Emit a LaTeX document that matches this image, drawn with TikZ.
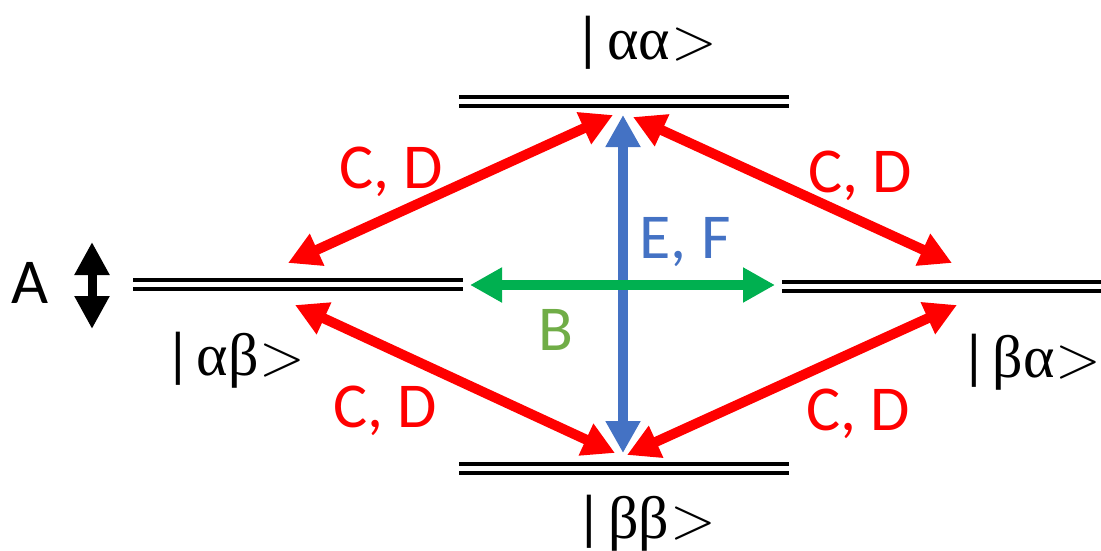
\documentclass[tikz,border=0pt]{standalone}
\usepackage{fix-cm}
\usepackage{fontspec}
\setmainfont{Carlito}
\newfontfamily\greekfont{Liberation Serif}
\usetikzlibrary{arrows.meta}
\definecolor{cdred}{RGB}{255,0,0}
\definecolor{efblue}{RGB}{68,114,196}
\definecolor{bgreen}{RGB}{0,176,80}
\definecolor{blabel}{RGB}{112,173,71}
\newcommand{\kettext}[1]{|\hspace{5pt}{\greekfont #1}\hspace{1pt}$>$}
\begin{document}
\begin{tikzpicture}[
        x=1pt, y=-1pt,
        font=\fontsize{64}{70}\selectfont,
        level/.style={draw=black, line width=4pt, double=white, double distance=5pt},
        trans/.style={line width=10pt, {Triangle[width=33pt,length=32pt]}-{Triangle[width=33pt,length=32pt]}},
        cd/.style={trans, draw=cdred},
        ket/.style={anchor=base, inner sep=0pt, font=\fontsize{60}{66}\selectfont},
        lab/.style={anchor=base, inner sep=0pt}
    ]
        \useasboundingbox (0,0) rectangle (1101,551);
        % energy levels
        \coordinate (aaL) at (459,101.5); \coordinate (aaR) at (789,101.5);
        \coordinate (abL) at (133,284.5); \coordinate (abR) at (463,284.5);
        \coordinate (baL) at (782,286.5); \coordinate (baR) at (1101,286.5);
        \coordinate (bbL) at (459,468.5); \coordinate (bbR) at (789,468.5);
        \draw[level] (aaL) -- (aaR);
        \draw[level] (abL) -- (abR);
        \draw[level] (baL) -- (baR);
        \draw[level] (bbL) -- (bbR);
        \node[ket] (kaa) at (646,60) {\kettext{αα}};
        \node[ket] (kab) at (235,375) {\kettext{αβ}};
        \node[ket] (kba) at (1031,377) {\kettext{βα}};
        \node[ket] (kbb) at (646,538) {\kettext{ββ}};
        % transition end points
        \coordinate (t1a) at (613,115); \coordinate (t1b) at (288,263);
        \coordinate (t2a) at (633,117); \coordinate (t2b) at (952,263);
        \coordinate (t3a) at (295,305); \coordinate (t3b) at (615,453);
        \coordinate (t4a) at (957,305); \coordinate (t4b) at (627,455);
        \coordinate (efa) at (623,115); \coordinate (efb) at (623,453);
        \coordinate (ba) at (470,285); \coordinate (bb) at (775,285);
        \coordinate (aa) at (92,242); \coordinate (ab) at (92,329);
        \draw[cd] (t1a) -- (t1b);
        \draw[cd] (t2a) -- (t2b);
        \draw[cd] (t3a) -- (t3b);
        \draw[cd] (t4a) -- (t4b);
        \draw[trans, draw=efblue] (efa) -- (efb);
        \draw[trans, draw=bgreen] (ba) -- (bb);
        \draw[line width=9pt, {Triangle[width=33pt,length=33pt]}-{Triangle[width=33pt,length=33pt]}] (aa) -- (ab);
        % labels
        \node[lab, text=cdred] (cd1) at (391,188) {C, D};
        \node[lab, text=cdred] (cd2) at (860,192) {C, D};
        \node[lab, text=cdred] (cd3) at (385,427) {C, D};
        \node[lab, text=cdred] (cd4) at (858,430) {C, D};
        \node[lab, text=efblue] (ef) at (685,258) {E, F};
        \node[lab, text=blabel] (bl) at (556,350) {B};
        \node[lab] (al) at (30.5,303) {A};
    \end{tikzpicture}
\end{document}
